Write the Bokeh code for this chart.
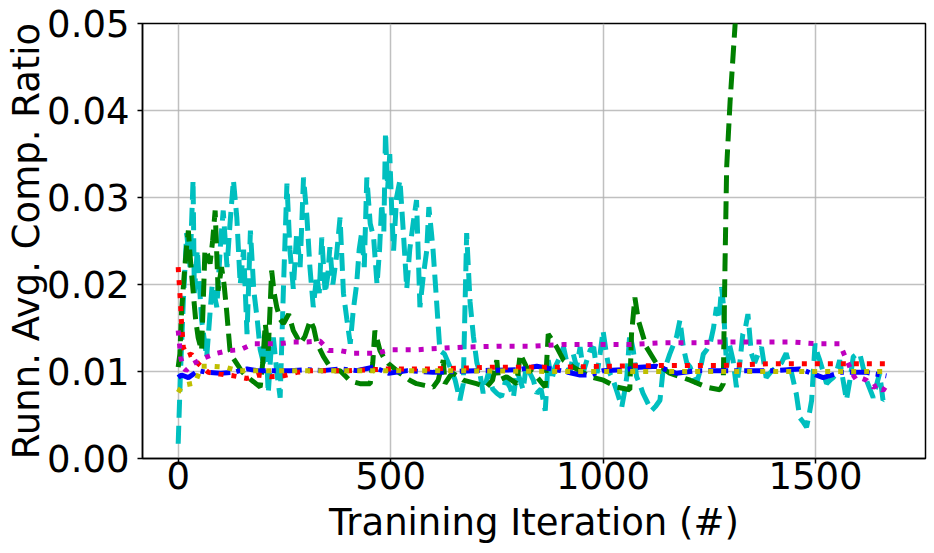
from bokeh.plotting import figure
from bokeh.models import FixedTicker, PrintfTickFormatter, Range1d
from bokeh.embed import file_html
from bokeh.resources import INLINE

# ---------------- data ----------------
cyan_x = [0, 5, 12, 20, 28, 35, 38, 45, 55, 67, 80, 91, 100, 106, 115, 122, 130, 138, 146, 154,
          162, 170, 178, 186, 193, 201, 206, 212, 218, 224, 232, 240, 248, 256, 263, 271, 279, 287,
          295, 303, 310, 318, 326, 332, 338, 346, 352, 357, 364, 372, 381, 389, 397, 405, 412, 420,
          426, 432, 438, 444, 452, 460, 468, 474, 479, 484, 488, 493, 498, 503, 507, 514, 522, 530,
          538, 545, 553, 561, 569, 577, 585, 590, 596, 600, 608, 616, 627, 640, 652, 663, 671, 679,
          687, 695, 703, 710, 718, 730, 740, 750, 761, 771, 781, 789, 797, 805, 812, 820, 828, 836,
          844, 854, 864, 871, 879, 887, 897, 907, 915, 922, 930, 938, 946, 954, 962, 970, 978, 986,
          993, 1000, 1008, 1016, 1024, 1034, 1044, 1050, 1056, 1063, 1071, 1079, 1087, 1094, 1104,
          1114, 1124, 1134, 1142, 1150, 1157, 1165, 1173, 1181, 1189, 1197, 1205, 1212, 1220, 1228,
          1236, 1244, 1252, 1260, 1267, 1273, 1279, 1283, 1291, 1298, 1306, 1314, 1322, 1329, 1335,
          1341, 1349, 1357, 1365, 1373, 1384, 1396, 1408, 1420, 1431, 1443, 1455, 1463, 1471, 1479,
          1485, 1491, 1499, 1505, 1510, 1518, 1526, 1534, 1542, 1550, 1557, 1565, 1573, 1581, 1589,
          1597, 1604, 1612, 1620, 1628, 1636, 1644, 1651, 1659, 1667]
cyan_y = [0.0017, 0.0093, 0.018, 0.0259, 0.022, 0.032, 0.019, 0.024, 0.016, 0.0116, 0.020, 0.0174,
          0.025, 0.0285, 0.022, 0.027, 0.032, 0.0277, 0.020, 0.024, 0.0143, 0.0262, 0.0193, 0.016,
          0.0125, 0.0109, 0.014, 0.0075, 0.012, 0.0139, 0.010, 0.007, 0.020, 0.0316, 0.024, 0.0195,
          0.026, 0.022, 0.0323, 0.0278, 0.022, 0.0174, 0.021, 0.019, 0.0254, 0.019, 0.021, 0.0243,
          0.020, 0.023, 0.0277, 0.019, 0.016, 0.0132, 0.017, 0.020, 0.024, 0.026, 0.022, 0.0323,
          0.027, 0.0254, 0.020, 0.024, 0.0293, 0.026, 0.0375, 0.031, 0.035, 0.028, 0.0239, 0.030,
          0.032, 0.026, 0.0195, 0.024, 0.027, 0.0297, 0.0174, 0.021, 0.0239, 0.0289, 0.026, 0.0239,
          0.0182, 0.0124, 0.012, 0.0105, 0.009, 0.0067, 0.0086, 0.0259, 0.018, 0.014, 0.011, 0.0098,
          0.0075, 0.0098, 0.008, 0.0075, 0.0071, 0.009, 0.0082, 0.007, 0.0101, 0.009, 0.0079, 0.011,
          0.0098, 0.009, 0.0075, 0.008, 0.0055, 0.0113, 0.009, 0.0105, 0.0115, 0.0128, 0.011, 0.0098,
          0.012, 0.0105, 0.0128, 0.010, 0.0113, 0.0125, 0.0128, 0.0098, 0.012, 0.0147, 0.012, 0.0098,
          0.009, 0.0075, 0.0059, 0.0075, 0.0094, 0.0144, 0.0125, 0.0094, 0.0085, 0.0075, 0.0065,
          0.0055, 0.006, 0.0067, 0.0105, 0.011, 0.012, 0.013, 0.014, 0.0159, 0.0128, 0.011, 0.0105,
          0.0095, 0.0086, 0.010, 0.012, 0.0125, 0.0132, 0.015, 0.0174, 0.016, 0.0197, 0.0178, 0.0105,
          0.013, 0.0113, 0.0082, 0.011, 0.0143, 0.015, 0.0166, 0.0121, 0.011, 0.012, 0.0128, 0.0093,
          0.010, 0.0105, 0.011, 0.0121, 0.010, 0.0074, 0.0047, 0.0042, 0.0036, 0.005, 0.0067, 0.0132,
          0.012, 0.0113, 0.010, 0.0086, 0.009, 0.0093, 0.010, 0.0113, 0.009, 0.0067, 0.009, 0.0117,
          0.012, 0.0121, 0.0105, 0.009, 0.008, 0.007, 0.0085, 0.0098, 0.0067, 0.007]

green_x = [0, 4, 8, 14, 20, 24, 27, 31, 35, 41, 47, 55, 59, 63, 69, 75, 81, 87, 94, 102, 108, 114,
           122, 130, 138, 150, 162, 178, 193, 199, 205, 212, 220, 226, 232, 240, 248, 260, 271, 279,
           287, 298, 311, 319, 327, 342, 358, 370, 381, 393, 405, 428, 452, 458, 463, 475, 485, 495,
           522, 545, 561, 580, 600, 612, 624, 628, 640, 647, 671, 702, 726, 740, 750, 754, 773, 797,
           805, 820, 844, 864, 871, 891, 907, 930, 970, 1001, 1032, 1063, 1067, 1075, 1083, 1102,
           1126, 1157, 1205, 1244, 1275, 1283, 1287, 1291, 1299, 1311, 1330]
green_y = [0.0105, 0.012, 0.017, 0.021, 0.0245, 0.0262, 0.024, 0.0215, 0.0193, 0.016, 0.0139,
           0.0124, 0.018, 0.024, 0.0235, 0.0224, 0.025, 0.0285, 0.0193, 0.022, 0.020, 0.017, 0.0124,
           0.0115, 0.0109, 0.010, 0.0094, 0.0088, 0.0082, 0.011, 0.0155, 0.0124, 0.0216, 0.019,
           0.0174, 0.016, 0.0155, 0.0166, 0.0147, 0.014, 0.0132, 0.014, 0.0159, 0.015, 0.0132,
           0.0117, 0.0105, 0.0101, 0.0101, 0.0095, 0.0089, 0.0086, 0.0086, 0.011, 0.0147, 0.0124,
           0.0115, 0.0109, 0.0098, 0.009, 0.0086, 0.0084, 0.0082, 0.009, 0.0113, 0.0086, 0.0095,
           0.0098, 0.009, 0.0086, 0.0082, 0.009, 0.0113, 0.009, 0.0094, 0.0086, 0.012, 0.0105,
           0.0094, 0.0082, 0.0143, 0.0128, 0.0113, 0.0105, 0.0094, 0.009, 0.0082, 0.0079, 0.0143,
           0.0185, 0.0159, 0.0128, 0.0109, 0.0098, 0.009, 0.0082, 0.0079, 0.0086, 0.022, 0.0335,
           0.041, 0.050, 0.065]

magenta_x = [0, 3, 6, 12, 18, 35, 63, 91, 118, 146, 177, 209, 240, 271, 303, 334, 354, 381, 413,
             444, 468, 499, 530, 562, 593, 671, 750, 828, 907, 986, 1063, 1142, 1220, 1283, 1314,
             1440, 1502, 1557, 1569, 1581, 1590, 1597, 1610, 1620, 1636, 1648, 1659, 1670]
magenta_y = [0.0147, 0.0132, 0.0116, 0.0105, 0.0101, 0.0109, 0.0116, 0.0121, 0.0124, 0.0125,
             0.0132, 0.0132, 0.0132, 0.0134, 0.0134, 0.0135, 0.0124, 0.0124, 0.0121, 0.0121, 0.0121,
             0.0125, 0.0125, 0.0125, 0.0126, 0.0128, 0.0129, 0.0129, 0.0131, 0.0131, 0.0131, 0.0133,
             0.0133, 0.0134, 0.0134, 0.0134, 0.0132, 0.0132, 0.0118, 0.0105, 0.0095, 0.009, 0.0092,
             0.009, 0.0082, 0.0085, 0.0078, 0.0086]

red_x = [0, 4, 8, 12, 20, 31, 47, 71, 98, 130, 162, 189, 216, 248, 279, 311, 400, 499, 600, 750,
         900, 1000, 1150, 1283, 1400, 1670]
red_y = [0.022, 0.019, 0.0155, 0.0128, 0.0118, 0.012, 0.0109, 0.0099, 0.0097, 0.0095, 0.0092,
         0.0096, 0.0094, 0.0095, 0.0099, 0.0101, 0.0101, 0.0103, 0.0103, 0.0105, 0.0105, 0.0106,
         0.0107, 0.0107, 0.0109, 0.0109]

blue_x = [0, 8, 24, 47, 67, 100, 130, 162, 185, 224, 264, 303, 340, 381, 420, 460, 495, 540, 600,
          700, 800, 844, 900, 946, 970, 1000, 1050, 1087, 1126, 1173, 1220, 1283, 1400, 1463, 1518,
          1560, 1620, 1667]
blue_y = [0.0093, 0.0096, 0.0093, 0.0101, 0.0099, 0.0098, 0.0099, 0.0103, 0.0101, 0.0101, 0.0101,
          0.0102, 0.0101, 0.0103, 0.0101, 0.0105, 0.0098, 0.0101, 0.0099, 0.0101, 0.0102, 0.0106,
          0.0101, 0.0096, 0.0096, 0.0101, 0.0102, 0.0105, 0.0106, 0.0098, 0.0101, 0.0101, 0.0101,
          0.0103, 0.0093, 0.0099, 0.0099, 0.0095]

yellow_x = [0, 10, 40, 55, 80, 110, 140, 300, 600, 900, 1200, 1500, 1670]
yellow_y = [0.0076, 0.0084, 0.0087, 0.0106, 0.0106, 0.0105, 0.0101, 0.0101, 0.0101, 0.0100,
            0.0100, 0.0100, 0.0100]

x_ticks = [0, 500, 1000, 1500]
y_ticks = [0.0, 0.01, 0.02, 0.03, 0.04, 0.05]
x_label = "Tranining Iteration (#)"
y_label = "Runn. Avg. Comp. Ratio"

# ---------------- figure ----------------
FONT = "DejaVu Sans"
p = figure(width=928, height=553, output_backend="svg", toolbar_location=None,
           x_range=Range1d(-84, 1759), y_range=Range1d(0, 0.05),
           min_border_left=142, min_border_right=3, min_border_top=23, min_border_bottom=95)

p.outline_line_color = "black"
p.outline_line_width = 1.5
p.background_fill_color = "white"
p.border_fill_color = "white"

for g in (p.xgrid[0], p.ygrid[0]):
    g.grid_line_color = "#b0b0b0"
    g.grid_line_width = 1.5
    g.grid_line_alpha = 0.8

p.xaxis.ticker = FixedTicker(ticks=x_ticks)
p.yaxis.ticker = FixedTicker(ticks=y_ticks)
p.yaxis.formatter = PrintfTickFormatter(format="%.2f")
p.xaxis.axis_label = x_label
p.yaxis.axis_label = y_label

for ax in (p.xaxis[0], p.yaxis[0]):
    ax.axis_line_color = "black"
    ax.axis_line_width = 1.5
    ax.major_tick_line_color = "black"
    ax.major_tick_line_width = 1.5
    ax.major_tick_out = 5
    ax.major_tick_in = 0
    ax.minor_tick_line_color = None
    ax.major_label_text_font = FONT
    ax.major_label_text_font_size = "37px"
    ax.major_label_text_color = "black"
    ax.axis_label_text_font = FONT
    ax.axis_label_text_font_size = "37px"
    ax.axis_label_text_font_style = "normal"
    ax.axis_label_text_color = "black"

p.xaxis.major_label_standoff = -2
p.xaxis.axis_label_standoff = 9
p.yaxis.major_label_standoff = 8
p.yaxis.axis_label_standoff = -4

LW = 5
p.line(cyan_x, cyan_y, line_color="#00bfbf", line_width=LW, line_dash="18 8")
p.line(green_x, green_y, line_color="#008000", line_width=LW, line_dash="18 8")
p.line(blue_x, blue_y, line_color="#0000ff", line_width=LW, line_dash="20 6 4 6")
p.line(red_x, red_y, line_color="#ff0000", line_width=LW, line_dash="5 8")
p.line(magenta_x, magenta_y, line_color="#bf00bf", line_width=LW, line_dash="5 8")
p.line(yellow_x, yellow_y, line_color="#bfbf00", line_width=LW, line_dash="5 8")

open("out.html", "w").write(file_html(p, INLINE))
